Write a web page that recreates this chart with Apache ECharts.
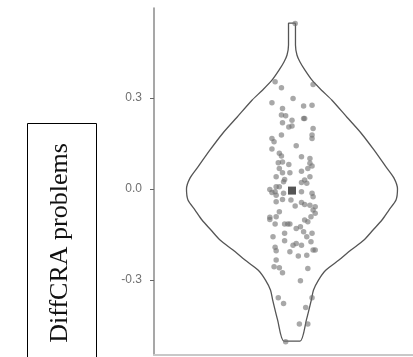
<!DOCTYPE html>
<html>
<head>
<meta charset="utf-8">
<script src="https://cdn.jsdelivr.net/npm/echarts@6/dist/echarts.min.js"></script>
<style>
  html, body { margin: 0; padding: 0; background: #fff; }
  #chart { width: 413px; height: 357px; }
</style>
</head>
<body>
<div id="chart"></div>
<script>
  // violin outline: value on y, half width (relative to the widest point)
  const violinY = [0.547, 0.475, 0.442, 0.419, 0.392, 0.359, 0.326, 0.293, 0.237, 0.185, 0.129, 0.073, 0.036, 0.0,
    -0.036, -0.069, -0.102, -0.135, -0.168, -0.201, -0.234, -0.267, -0.300, -0.333, -0.366, -0.432, -0.501]
  const violinW = [0.033, 0.033, 0.047, 0.076, 0.123, 0.190, 0.280, 0.379, 0.521, 0.654, 0.777, 0.891, 0.967, 1.0,
    0.986, 0.919, 0.853, 0.768, 0.682, 0.559, 0.445, 0.322, 0.251, 0.204, 0.183, 0.136, 0.076]

  // jittered observations
  const jitterX = [-0.16, -0.10, 0.20, 0.01, -0.19, 0.11, 0.19, -0.09, -0.10, -0.06, 0.00, -0.09, -0.03, 0.00, 0.11, 0.12,
    0.20, -0.10, -0.19, 0.19, 0.19, -0.17, 0.04, -0.19, -0.12, -0.10, 0.09, 0.17, -0.13, -0.09, 0.17, 0.19, -0.03,
    -0.12, 0.09, 0.15, -0.09, -0.02, -0.15, -0.07, -0.08, 0.17, 0.12, 0.09, 0.14, -0.15, -0.21, -0.12, -0.16, -0.19,
    -0.08, -0.01, 0.09, 0.19, 0.20, -0.15, -0.09, 0.09, 0.12, 0.17, 0.22, -0.15, 0.03, 0.20, 0.22, 0.18, -0.12, -0.15,
    -0.21, -0.21, 0.12, 0.15, -0.07, -0.04, -0.02, -0.16, 0.08, 0.04, -0.18, -0.07, 0.11, 0.14, 0.19, -0.07, 0.04,
    0.18, 0.09, 0.01, -0.16, -0.15, 0.20, 0.22, -0.02, 0.06, -0.15, 0.14, -0.17, -0.12, -0.09, 0.15, 0.08, -0.13,
    -0.08, 0.19, 0.13, 0.07, 0.15, -0.06, 0.03]
  const dotY = [0.354, 0.334, 0.345, 0.299, 0.285, 0.274, 0.276, 0.266, 0.244, 0.242, 0.227, 0.219, 0.205, 0.208, 0.233,
    0.233, 0.200, 0.178, 0.167, 0.178, 0.167, 0.156, 0.143, 0.132, 0.118, 0.109, 0.107, 0.101, 0.087, 0.089, 0.085,
    0.076, 0.081, 0.068, 0.059, 0.068, 0.054, 0.054, 0.041, 0.032, 0.024, 0.041, 0.030, 0.022, 0.019, 0.008, -0.001,
    0.008, -0.009, -0.011, -0.014, -0.036, -0.009, -0.014, -0.025, -0.020, -0.034, -0.044, -0.051, -0.053, -0.058,
    -0.042, -0.056, -0.069, -0.080, -0.091, -0.075, -0.091, -0.093, -0.100, -0.102, -0.108, -0.115, -0.115, -0.115,
    -0.115, -0.124, -0.130, -0.157, -0.146, -0.141, -0.157, -0.146, -0.170, -0.179, -0.174, -0.185, -0.185, -0.192,
    -0.203, -0.201, -0.201, -0.207, -0.221, -0.234, -0.218, -0.256, -0.259, -0.276, -0.262, -0.302, -0.358, -0.377,
    -0.358, -0.390, -0.445, -0.445, -0.503, 0.546]

  const meanPoint = [0, -0.005]
  const yTicks = [-0.3, 0, 0.3]
  const axisLabelText = 'DiffCRA problems'

  // closed outline: right side top->bottom, then left side bottom->top
  const outline = []
  violinY.forEach((y, i) => outline.push([violinW[i], y]))
  for (let i = violinY.length - 1; i >= 0; i--) outline.push([-violinW[i], violinY[i]])
  outline.push([violinW[0], violinY[0]])

  const myChart = echarts.init(document.getElementById('chart'), null, { renderer: 'canvas' })

  const option = {
    animation: false,
    backgroundColor: '#fff',
    grid: { left: 154, right: 0, top: 8, bottom: 2 },
    xAxis: {
      type: 'value',
      min: -1.308,
      max: 1.147,
      axisLine: { show: true, onZero: false, lineStyle: { color: '#c8c8c8', width: 2 } },
      axisTick: { show: false },
      axisLabel: { show: false },
      splitLine: { show: false },
    },
    yAxis: {
      type: 'value',
      min: -0.547,
      max: 0.597,
      axisLine: { show: true, onZero: false, lineStyle: { color: '#8a8a8a', width: 1.5 } },
      axisTick: {
        show: true,
        length: 4,
        customValues: yTicks,
        lineStyle: { color: '#666', width: 1 },
      },
      axisLabel: {
        show: true,
        customValues: yTicks,
        margin: 12,
        color: '#707070',
        fontSize: 12,
        fontFamily: 'Liberation Sans',
        formatter: v => v.toFixed(1),
      },
      splitLine: { show: false },
    },
    graphic: [
      {
        type: 'rect',
        shape: { x: 27.5, y: 123.5, width: 69, height: 260 },
        style: { fill: '#fff', stroke: '#000', lineWidth: 1 },
      },
      {
        type: 'text',
        x: 60,
        y: 243,
        rotation: Math.PI / 2,
        style: {
          text: axisLabelText,
          fill: '#111',
          font: '26px "Liberation Serif"',
          align: 'center',
          verticalAlign: 'middle',
        },
      },
    ],
    series: [
      {
        name: 'violin',
        type: 'line',
        data: outline,
        smooth: 0.25,
        showSymbol: false,
        lineStyle: { color: '#555', width: 1.3 },
        z: 1,
      },
      {
        name: 'points',
        type: 'scatter',
        data: jitterX.map((x, i) => [x, dotY[i]]),
        symbolSize: 5.5,
        itemStyle: { color: 'rgba(110, 110, 110, 0.75)' },
        z: 2,
      },
      {
        name: 'mean',
        type: 'scatter',
        data: [meanPoint],
        symbol: 'rect',
        symbolSize: 8,
        itemStyle: { color: '#2b2b2b' },
        z: 3,
      },
    ],
  }

  option && myChart.setOption(option)
</script>
</body>
</html>
